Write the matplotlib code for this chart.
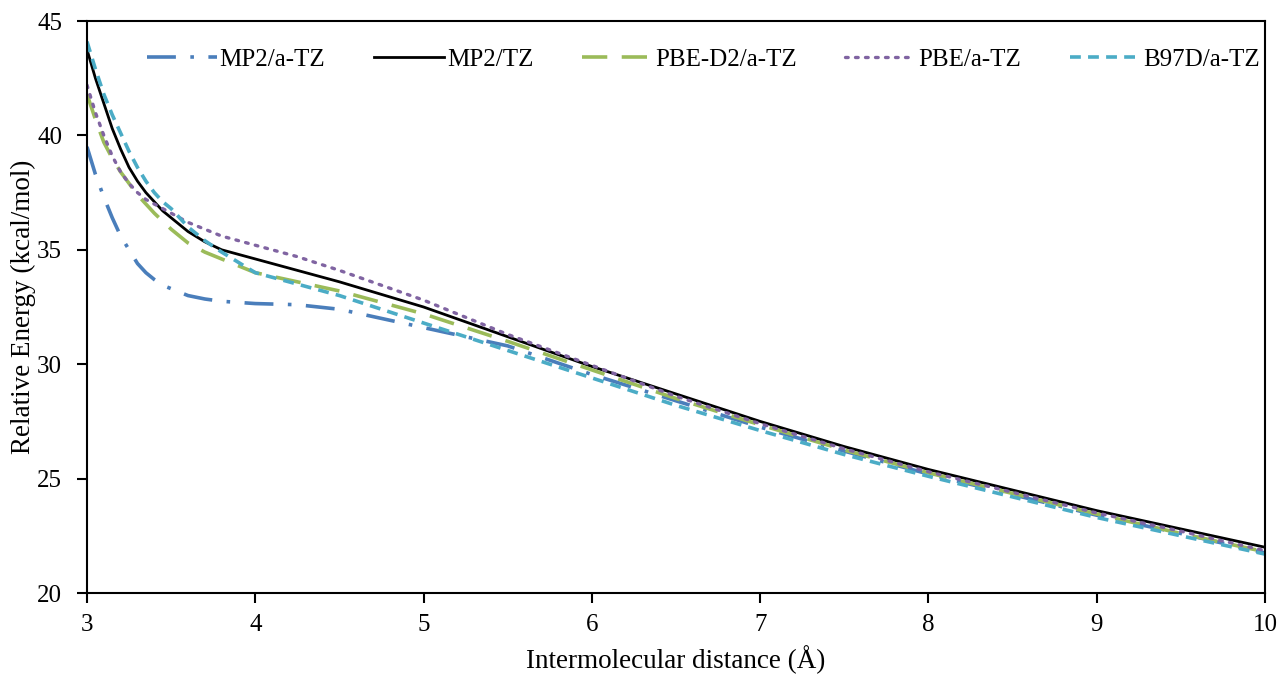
import matplotlib
matplotlib.use("Agg")
import matplotlib.pyplot as plt

plt.rcParams['font.family'] = ['Liberation Serif', 'DejaVu Serif']

# distances (angstrom)
dist = [3.0, 3.05, 3.1, 3.15, 3.2, 3.25, 3.3, 3.35, 3.4, 3.45, 3.5, 3.6, 3.7, 3.8,
        4.0, 4.25, 4.5, 5.0, 5.5, 6.0, 6.5, 7.0, 7.5, 8.0, 8.5, 9.0, 9.5, 10.0]

mp2_atz = [39.5, 38.3, 37.3, 36.4, 35.6, 35.0, 34.4, 34.0, 33.7, 33.45, 33.3, 33.0, 32.85, 32.75,
           32.65, 32.6, 32.4, 31.6, 30.8, 29.55, 28.4, 27.25, 26.2, 25.2, 24.3, 23.4, 22.6, 21.75]
mp2_tz = [43.75, 42.5, 41.4, 40.3, 39.4, 38.6, 38.0, 37.5, 37.1, 36.7, 36.4, 35.8, 35.35, 35.0,
          34.6, 34.1, 33.6, 32.5, 31.2, 29.9, 28.7, 27.5, 26.4, 25.4, 24.5, 23.6, 22.8, 22.0]
pbed2_atz = [41.8, 40.7, 39.7, 39.0, 38.4, 37.9, 37.4, 37.0, 36.6, 36.25, 35.9, 35.3, 34.9, 34.6,
             34.0, 33.6, 33.2, 32.2, 31.0, 29.75, 28.5, 27.35, 26.25, 25.25, 24.35, 23.45, 22.6, 21.8]
pbe_atz = [42.2, 41.0, 40.0, 39.1, 38.4, 37.9, 37.5, 37.2, 37.0, 36.8, 36.6, 36.2, 35.9, 35.6,
           35.2, 34.7, 34.1, 32.8, 31.3, 29.95, 28.6, 27.4, 26.3, 25.3, 24.4, 23.5, 22.7, 21.85]
b97d_atz = [44.1, 42.9, 41.8, 40.9, 40.1, 39.3, 38.6, 38.0, 37.5, 37.1, 36.8, 36.0, 35.4, 34.9,
            34.0, 33.5, 33.0, 31.8, 30.6, 29.4, 28.2, 27.1, 26.05, 25.1, 24.2, 23.3, 22.5, 21.7]

labels = ['MP2/a-TZ', 'MP2/TZ', 'PBE-D2/a-TZ', 'PBE/a-TZ', 'B97D/a-TZ']

fig = plt.figure(figsize=(12.82, 6.75), dpi=100)
ax = fig.add_axes([87/1282, 82/675, (1265-87)/1282, (593-21)/675])

ax.plot(dist, mp2_atz, color='#4A7EBB', lw=2.6, dashes=(8, 4, 1, 4), label=labels[0])
ax.plot(dist, mp2_tz, color='black', lw=2.0, label=labels[1])
ax.plot(dist, pbed2_atz, color='#9BBB59', lw=2.6, dashes=(7, 4), label=labels[2])
ax.plot(dist, pbe_atz, color='#8064A2', lw=2.4, dashes=(0.8, 2.2), dash_capstyle='round',
        label=labels[3])
ax.plot(dist, b97d_atz, color='#4BACC6', lw=2.6, dashes=(3, 2), label=labels[4])

ax.set_xlim(3, 10)
ax.set_ylim(20, 45)
ax.set_xticks(range(3, 11))
ax.set_yticks(range(20, 46, 5))
ax.tick_params(direction='out', length=7, width=1.5, labelsize=18)
ax.tick_params(axis='x', pad=8)
ax.tick_params(axis='y', pad=11)
for s in ax.spines.values():
    s.set_linewidth(1.5)

ax.set_xlabel('Intermolecular distance (Å)', fontsize=19.5, labelpad=7)
ax.set_ylabel('Relative Energy (kcal/mol)', fontsize=19.5, labelpad=1)

ax.legend(loc='upper center', bbox_to_anchor=(0.523, 0.992), ncol=5, frameon=False,
          fontsize=18, handlelength=2.8, handletextpad=0.12, columnspacing=1.95)

fig.savefig('out.png', dpi=100)
